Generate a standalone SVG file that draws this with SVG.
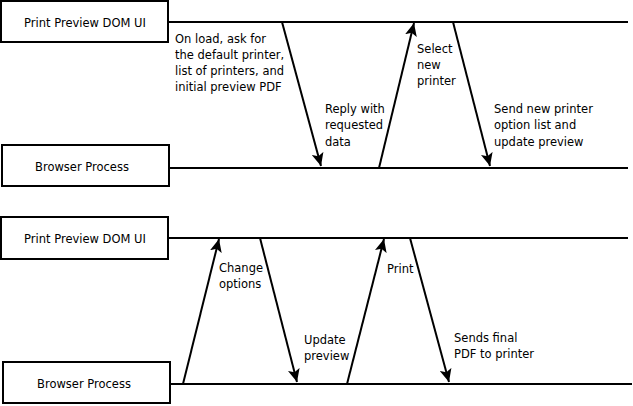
<svg xmlns="http://www.w3.org/2000/svg" width="633" height="406" viewBox="0 0 633 406">
<style>
.box{fill:#fff;stroke:#000;stroke-width:2}
.ln{stroke:#000;stroke-width:2;fill:none}
.ar{stroke:#000;stroke-width:2;fill:none;marker-end:url(#ah)}
text{font-family:"DejaVu Sans",sans-serif;font-size:11.5px;fill:#000}
.c{text-anchor:middle}
</style>
<defs>
<marker id="ah" markerUnits="userSpaceOnUse" markerWidth="14" markerHeight="12" viewBox="0 0 14 12" refX="13" refY="6" orient="auto">
<path d="M0,0 L13,6 L0,12 L3,6 Z" fill="#000"/>
</marker>
</defs>
<rect x="0" y="0" width="633" height="406" fill="#fff"/>
<g id="lifelines">
<line class="ln" x1="168" y1="22" x2="628" y2="22"/>
<line class="ln" x1="169" y1="168" x2="628" y2="168"/>
<line class="ln" x1="168" y1="238" x2="628" y2="238"/>
<line class="ln" x1="170" y1="384" x2="632" y2="384"/>
</g>
<g id="node-ui1"><rect class="box" x="1" y="1" width="167" height="41"/><text class="c" x="85" y="27">Print Preview DOM UI</text></g>
<g id="node-bp1"><rect class="box" x="2" y="145" width="167" height="41"/><text class="c" x="82" y="171">Browser Process</text></g>
<g id="node-ui2"><rect class="box" x="1" y="217" width="167" height="42"/><text class="c" x="85" y="243">Print Preview DOM UI</text></g>
<g id="node-bp2"><rect class="box" x="3" y="362" width="167" height="41"/><text class="c" x="84" y="388">Browser Process</text></g>
<g id="connectors">
<line class="ar" x1="282" y1="22" x2="321" y2="166"/>
<line class="ar" x1="379" y1="168" x2="414" y2="23"/>
<line class="ar" x1="453" y1="22" x2="490" y2="166"/>
<line class="ar" x1="183" y1="384" x2="219" y2="239"/>
<line class="ar" x1="260" y1="238" x2="297" y2="382"/>
<line class="ar" x1="347" y1="384" x2="384" y2="239"/>
<line class="ar" x1="410" y1="238" x2="449" y2="382"/>
</g>
<g id="labels">
<text x="175" y="43">On load, ask for</text>
<text x="175" y="59">the default printer,</text>
<text x="175" y="75">list of printers, and</text>
<text x="175" y="91">initial preview PDF</text>
<text x="325" y="113">Reply with</text>
<text x="325" y="129">requested</text>
<text x="325" y="146">data</text>
<text x="417" y="53">Select</text>
<text x="417" y="69">new</text>
<text x="417" y="85">printer</text>
<text x="494" y="113">Send new printer</text>
<text x="494" y="129">option list and</text>
<text x="494" y="146">update preview</text>
<text x="219" y="272">Change</text>
<text x="219" y="288">options</text>
<text x="304" y="344">Update</text>
<text x="304" y="360">preview</text>
<text x="387" y="273">Print</text>
<text x="454" y="342">Sends final</text>
<text x="454" y="358">PDF to printer</text>
</g>
</svg>
